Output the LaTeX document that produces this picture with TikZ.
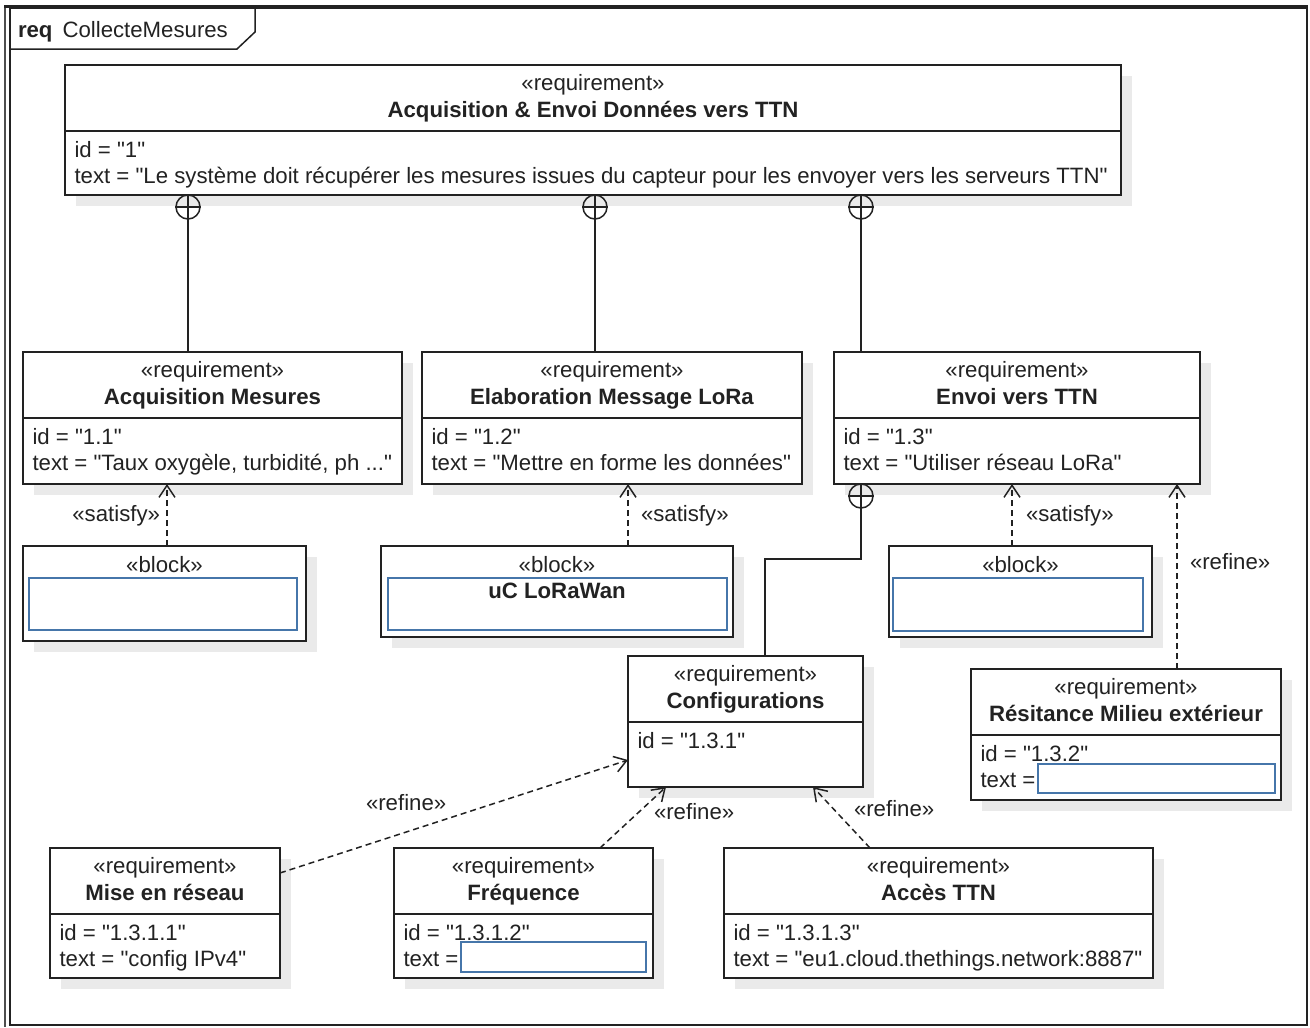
\documentclass[tikz,border=0pt]{standalone}
\usepackage{fontspec}
\setmainfont{Liberation Sans}[Ligatures=TeXOff]
\usetikzlibrary{arrows.meta}
\definecolor{ink}{RGB}{34,34,34}
\definecolor{blu}{RGB}{70,118,170}
\definecolor{shd}{RGB}{234,234,234}
\newcommand{\reqbox}[8]{%
  \fill[shd] (#2+11,#3+11) rectangle (#4+11,#5+11);
  \node[boxs, minimum width=#4-#2, minimum height=#5-#3] (#1) at ({(#2+#4)/2},{(#3+#5)/2}) {};
  \draw[boxline] (#2,#3+66) -- (#4,#3+66);
  \node[txt, anchor=base] (#1st) at ({(#2+#4)/2},#3+25) {«requirement»};
  \node[txt, anchor=base] (#1ti) at ({(#2+#4)/2},#3+52) {\textbf{#6}};
  \node[txt, anchor=base west] (#1id) at (#2+9.5,#3+92) {#7};
  \node[txt, anchor=base west] (#1tx) at (#2+9.5,#3+118) {#8};
}
\newcommand{\blockbox}[9]{%
  \fill[shd] (#2+11,#3+11) rectangle (#4+11,#5+11);
  \node[boxs, minimum width=#4-#2, minimum height=#5-#3] (#1) at ({(#2+#4)/2},{(#3+#5)/2}) {};
  \node[txt, anchor=base] (#1st) at ({(#2+#4)/2},#3+26) {«block»};
  \node[bluebox, minimum width=#7-#6, minimum height=#9-#8] (#1in) at ({(#6+#7)/2},{(#8+#9)/2}) {};
}
\newcommand{\comp}[3]{%
  \node[circle, draw=ink, line width=1.5pt, minimum size=24pt, inner sep=0pt] (#1) at (#2,#3) {};
  \draw[ink, line width=1.5pt] (#1.north) -- (#1.south) (#1.west) -- (#1.east);
}
\begin{document}
\fontsize{22.2}{26}\selectfont
\begin{tikzpicture}[x=1pt,y=-1pt,
  boxs/.style={draw=ink, fill=white, line width=1.6pt, inner sep=0pt, outer sep=0pt},
  boxline/.style={draw=ink, line width=1.6pt},
  bluebox/.style={draw=blu, line width=2pt, inner sep=0pt, outer sep=0pt},
  txt/.style={inner sep=0pt, outer sep=0pt, text=ink},
  dep/.style={draw=ink, line width=1.5pt, dash pattern=on 6pt off 4pt, -{Straight Barb[length=12pt,width=16pt]}},
  compline/.style={draw=ink, line width=1.5pt}]
\useasboundingbox (0,0) rectangle (1310,1028);
% frame
\draw[ink, line width=1.5pt] (10,8) rectangle (1307,1025);
\draw[ink!80, line width=2.5pt] (5,5) -- (5,1027);
\draw[ink, line width=3pt] (4,6.5) -- (1308,6.5);
\draw[ink, line width=1.5pt] (10,49) -- (237,49) -- (255,32) -- (255,8);
\node[txt, anchor=base west] (frtitle) at (18,37) {\textbf{req}\hspace{10pt}CollecteMesures};

% requirements
\reqbox{r1}{65}{65}{1121}{195}{Acquisition \& Envoi Données vers TTN}{id = "1"}{text = "Le système doit récupérer les mesures issues du capteur pour les envoyer vers les serveurs TTN"}
\reqbox{r11}{23}{352}{402}{484}{Acquisition Mesures}{id = "1.1"}{text = "Taux oxygèle, turbidité, ph ..."}
\reqbox{r12}{422}{352}{802}{484}{Elaboration Message LoRa}{id = "1.2"}{text = "Mettre en forme les données"}
\reqbox{r13}{834}{352}{1200}{484}{Envoi vers TTN}{id = "1.3"}{text = "Utiliser réseau LoRa"}
\reqbox{cfg}{628}{656}{863}{787}{Configurations}{id = "1.3.1"}{}
\reqbox{r132}{971}{669}{1281}{800}{Résitance Milieu extérieur}{id = "1.3.2"}{text =}
\reqbox{r1311}{50}{848}{280}{978}{Mise en réseau}{id = "1.3.1.1"}{text = "config IPv4"}
\reqbox{r1312}{394}{848}{653}{978}{Fréquence}{id = "1.3.1.2"}{text =}
\reqbox{r1313}{724}{848}{1153}{978}{Accès TTN}{id = "1.3.1.3"}{text = "eu1.cloud.thethings.network:8887"}
\node[bluebox, minimum width=237, minimum height=29] (r132val) at (1156.5,778.5) {};
\node[bluebox, minimum width=185, minimum height=30] (r1312val) at (553.5,957) {};

% blocks
\blockbox{b1}{23}{546}{306}{641}{29}{297}{578}{630}
\blockbox{b2}{381}{546}{733}{637}{388}{727}{578}{630}
\blockbox{b3}{889}{546}{1152}{637}{893}{1143}{578}{631}
\node[txt, anchor=base] (b2name) at (557,598) {\textbf{uC LoRaWan}};

% composition
\comp{c1}{188}{207}
\comp{c2}{595}{207}
\comp{c3}{861}{207}
\comp{c4}{861}{496}
\draw[compline] (c1.south) -- (c1.south |- r11.north);
\draw[compline] (c2.south) -- (c2.south |- r12.north);
\draw[compline] (c3.south) -- (c3.south |- r13.north);
\coordinate (kink) at (765,559);
\draw[compline] (c4.south) |- (kink) -- (kink |- cfg.north);

% satisfy
\coordinate (s1) at (167,0);
\coordinate (s2) at (628,0);
\coordinate (s3) at (1012,0);
\coordinate (s4) at (1177,0);
\draw[dep] (b1.north -| s1) -- (r11.south -| s1);
\draw[dep] (b2.north -| s2) -- (r12.south -| s2);
\draw[dep] (b3.north -| s3) -- (r13.south -| s3);
\draw[dep] (r132.north -| s4) -- (r13.south -| s4);
\node[txt, anchor=base east] (ls1) at (160,521) {«satisfy»};
\node[txt, anchor=base west] (ls2) at (641,521) {«satisfy»};
\node[txt, anchor=base west] (ls3) at (1026,521) {«satisfy»};
\node[txt, anchor=base west] (lr4) at (1190,569) {«refine»};

% refine
\draw[dep] ([yshift=-25pt]r1311.north east) -- ([yshift=-104pt]cfg.north west);
\draw[dep] ([xshift=206pt]r1312.north west) -- ([xshift=38pt]cfg.south west);
\draw[dep] ([xshift=146pt]r1313.north west) -- ([xshift=185pt]cfg.south west);
\node[txt, anchor=base west] (lr1) at (366,810) {«refine»};
\node[txt, anchor=base west] (lr2) at (654,819) {«refine»};
\node[txt, anchor=base west] (lr3) at (854,816) {«refine»};
\end{tikzpicture}
\end{document}
